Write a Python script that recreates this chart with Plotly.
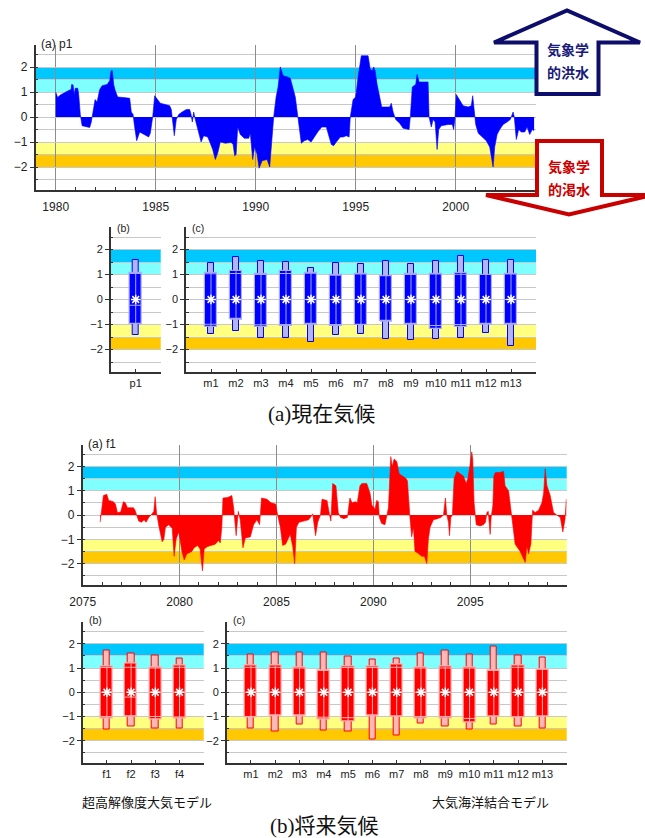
import numpy as np
import plotly.graph_objects as go

# ---------------------------------------------------------------- data
# Running drought/flood index, present climate (p1), decimal years
p1_year = [1980.00, 1980.10, 1980.23, 1980.48, 1980.65, 1980.77, 1980.80, 1980.87, 1980.92, 1980.98,
           1981.10, 1981.15, 1981.23, 1981.32, 1981.48, 1981.70, 1981.78, 1981.87, 1981.97, 1982.07,
           1982.20, 1982.32, 1982.57, 1982.70, 1982.77, 1982.83, 1982.90, 1982.98, 1983.10, 1983.40,
           1983.70, 1983.78, 1983.87, 1983.93, 1984.05, 1984.20, 1984.40, 1984.65, 1984.73, 1984.85,
           1984.95, 1985.03, 1985.23, 1985.48, 1985.70, 1985.78, 1985.85, 1985.93, 1986.03, 1986.15,
           1986.32, 1986.53, 1986.70, 1986.77, 1986.83, 1986.90, 1986.98, 1987.10, 1987.27, 1987.40,
           1987.60, 1987.73, 1987.85, 1987.98, 1988.10, 1988.23, 1988.48, 1988.77, 1988.87, 1988.95,
           1989.02, 1989.10, 1989.23, 1989.43, 1989.65, 1989.73, 1989.85, 1989.95, 1990.07, 1990.17,
           1990.32, 1990.57, 1990.70, 1990.80, 1990.90, 1991.02, 1991.12, 1991.23, 1991.37, 1991.60,
           1991.73, 1991.98, 1992.10, 1992.20, 1992.28, 1992.43, 1992.60, 1992.77, 1992.93, 1993.10,
           1993.30, 1993.53, 1993.78, 1993.90, 1994.03, 1994.23, 1994.37, 1994.53, 1994.67, 1994.73,
           1994.87, 1995.00, 1995.12, 1995.28, 1995.62, 1995.73, 1995.83, 1995.90, 1995.97, 1996.07,
           1996.20, 1996.30, 1996.70, 1996.78, 1996.87, 1997.00, 1997.20, 1997.37, 1997.67, 1997.73,
           1997.83, 1998.00, 1998.07, 1998.17, 1998.62, 1998.67, 1998.78, 1998.87, 1998.97, 1999.07,
           1999.15, 1999.28, 1999.62, 1999.83, 1999.90, 1999.97, 2000.03, 2000.20, 2000.37, 2000.62,
           2000.78, 2000.85, 2000.92, 2001.00, 2001.13, 2001.37, 2001.53, 2001.70, 2001.78, 2001.87,
           2001.95, 2002.07, 2002.20, 2002.37, 2002.57, 2002.73, 2002.87, 2002.93, 2003.03, 2003.15,
           2003.28, 2003.45, 2003.57, 2003.70, 2003.83, 2003.92]
p1_index = [1.00, 0.78, 0.88, 1.00, 1.06, 1.10, 1.30, 1.28, 0.90, 1.15,
            1.15, 0.90, 0.10, -0.35, -0.38, -0.42, -0.20, 0.20, 0.70, 0.60,
            1.10, 1.25, 1.30, 1.45, 1.85, 1.85, 1.30, 1.05, 0.80, 0.78,
            0.75, 0.20, 0.10, -0.30, -0.95, -0.60, -0.70, -0.80, -0.65, 0.00,
            0.85, 0.75, 0.55, 0.50, 0.45, 0.30, -0.10, -0.75, -0.10, 0.10,
            0.20, 0.30, 0.30, 0.10, -0.20, 0.20, -0.10, -0.50, -1.00, -0.75,
            -0.80, -1.05, -1.30, -1.70, -1.45, -1.00, -1.05, -1.02, -1.10, -1.55,
            -1.50, -0.40, -0.70, -0.85, -0.85, -0.65, -1.70, -1.20, -1.50, -2.05,
            -1.75, -1.70, -2.00, -1.00, 0.00, 0.80, 1.20, 2.00, 1.65, 1.60,
            1.55, 0.80, 0.00, -0.50, -1.05, -0.95, -0.90, -1.00, -0.80, -0.60,
            -0.40, -0.40, -1.10, -1.15, -1.00, -0.80, -0.80, -0.75, -0.80, 0.00,
            0.70, 0.80, 1.60, 2.45, 2.45, 1.90, 1.85, 2.00, 1.85, 1.30,
            0.80, 0.40, 0.40, 0.55, 0.20, -0.10, -0.25, -0.45, -0.50, 0.00,
            1.20, 1.30, 1.70, 1.40, 1.40, 0.00, -0.40, -0.10, -0.20, -1.30,
            -0.50, -0.35, -0.30, -0.30, -0.50, 0.00, 0.90, 0.70, 0.45, 0.40,
            0.45, 0.85, 0.30, -0.30, -0.65, -0.85, -0.95, -1.20, -1.60, -2.00,
            -1.20, -0.70, -0.50, -0.30, -0.20, -0.10, 0.20, 0.00, -0.90, -0.50,
            -0.60, -0.60, -0.40, -0.70, -0.50, -0.55]

# Running drought/flood index, future climate (f1)
f1_year = [2075.90, 2075.96, 2076.07, 2076.24, 2076.34, 2076.58, 2076.69, 2076.79, 2076.96, 2077.10,
           2077.20, 2077.31, 2077.62, 2077.70, 2077.79, 2077.89, 2078.03, 2078.17, 2078.27, 2078.41,
           2078.58, 2078.67, 2078.74, 2078.81, 2078.93, 2079.10, 2079.19, 2079.27, 2079.44, 2079.62,
           2079.72, 2079.82, 2079.96, 2080.12, 2080.24, 2080.37, 2080.63, 2080.75, 2080.93, 2081.06,
           2081.18, 2081.27, 2081.44, 2081.65, 2081.84, 2082.01, 2082.10, 2082.18, 2082.24, 2082.48,
           2082.70, 2082.79, 2082.92, 2083.03, 2083.13, 2083.27, 2083.39, 2083.65, 2083.82, 2083.99,
           2084.13, 2084.23, 2084.51, 2084.72, 2084.96, 2085.06, 2085.20, 2085.32, 2085.47, 2085.71,
           2085.84, 2085.94, 2086.03, 2086.16, 2086.40, 2086.66, 2086.80, 2086.87, 2086.96, 2087.02,
           2087.13, 2087.27, 2087.35, 2087.61, 2087.73, 2087.81, 2087.90, 2088.07, 2088.19, 2088.31,
           2088.48, 2088.66, 2088.79, 2088.90, 2089.07, 2089.17, 2089.31, 2089.41, 2089.66, 2089.83,
           2089.93, 2090.09, 2090.17, 2090.26, 2090.31, 2090.43, 2090.60, 2090.69, 2090.78, 2090.90,
           2090.98, 2091.07, 2091.21, 2091.33, 2091.69, 2091.76, 2091.83, 2091.89, 2091.98, 2092.07,
           2092.15, 2092.27, 2092.50, 2092.64, 2092.76, 2092.84, 2092.93, 2093.10, 2093.31, 2093.48,
           2093.62, 2093.72, 2093.79, 2093.88, 2093.93, 2094.00, 2094.08, 2094.17, 2094.31, 2094.48,
           2094.65, 2094.79, 2094.88, 2095.00, 2095.08, 2095.13, 2095.20, 2095.31, 2095.51, 2095.68,
           2095.79, 2095.86, 2095.93, 2096.03, 2096.08, 2096.17, 2096.22, 2096.30, 2096.55, 2096.72,
           2096.80, 2096.98, 2097.10, 2097.20, 2097.32, 2097.58, 2097.75, 2097.84, 2097.92, 2098.01,
           2098.13, 2098.22, 2098.35, 2098.53, 2098.70, 2098.79, 2098.87, 2098.96, 2099.13, 2099.30,
           2099.47, 2099.65, 2099.78, 2099.89, 2099.96]
f1_index = [-0.30, 0.20, 0.80, 0.85, 0.60, 0.55, 0.45, 0.10, 0.12, 0.55,
            0.50, 0.30, 0.30, 0.20, 0.00, -0.25, -0.30, -0.20, -0.30, -0.10,
            0.05, 0.15, 0.75, 0.10, -0.45, -1.10, -1.00, -0.50, -0.40, -0.55,
            -1.70, -1.00, -0.70, -1.50, -1.85, -1.60, -1.50, -1.35, -1.25, -1.40,
            -2.30, -1.40, -1.30, -1.25, -1.20, -1.05, -1.15, -0.50, 0.70, 0.72,
            0.80, 0.30, -0.85, 0.15, -0.20, -1.35, -0.95, -0.90, -0.40, -0.20,
            -0.40, 0.70, 0.65, 0.50, 0.45, 0.00, -0.50, -1.25, -1.20, -0.80,
            -1.30, -2.00, -0.50, -0.30, -0.25, -0.20, -0.05, 0.05, -0.50, -0.85,
            -0.30, 0.00, 0.65, 0.60, 0.05, -0.25, 1.30, 1.20, 0.10, -0.10,
            -0.15, -0.10, 0.70, 0.50, 0.55, 0.50, 1.20, 1.30, 1.30, 0.90,
            0.40, 0.25, 0.60, 0.55, -0.10, -0.35, -0.40, -0.10, 0.30, 2.40,
            2.00, 2.30, 2.20, 1.70, 1.50, 1.40, 0.50, -0.10, -0.90, -0.50,
            -1.50, -1.55, -1.70, -1.70, -2.00, -1.00, -0.50, -0.20, -0.15, -0.10,
            0.00, 0.70, 0.00, -0.30, -0.85, -0.10, 0.00, 1.50, 1.80, 1.70,
            1.60, 1.30, 1.50, 2.10, 2.60, 2.30, 0.50, -0.40, -0.45, -0.40,
            -0.30, 0.10, 0.15, -0.80, -0.10, 0.40, 1.60, 1.75, 1.75, 1.80,
            1.20, 1.00, 0.20, -0.30, -1.20, -1.50, -1.80, -1.95, -1.30, -1.60,
            -1.20, 0.20, 0.10, 0.20, 0.50, 0.90, 1.90, 1.20, 0.80, 0.10,
            0.00, -0.10, -0.70, -0.20, 0.65]

# Distribution summaries per run: whisker (min/max), box, reference lines, median, mean
present_b = dict(names=["p1"],
                 wmin=[-1.40], wmax=[1.60], blo=[-0.96], bhi=[1.08],
                 lo_line=[-0.96], hi_line=[1.04], median=[-0.23], mean=[0.0])
present_c = dict(names=["m1", "m2", "m3", "m4", "m5", "m6", "m7", "m8", "m9", "m10", "m11", "m12", "m13"],
                 wmin=[-1.36, -1.27, -1.55, -1.52, -1.68, -1.40, -1.36, -1.56, -1.60, -1.56, -1.52, -1.32, -1.85],
                 wmax=[1.48, 1.71, 1.56, 1.51, 1.28, 1.45, 1.44, 1.55, 1.44, 1.55, 1.73, 1.57, 1.60],
                 blo=[-1.09, -0.79, -1.11, -1.04, -0.99, -1.04, -1.00, -0.87, -0.99, -1.16, -1.09, -0.99, -0.99],
                 bhi=[1.07, 1.13, 1.01, 1.15, 1.08, 0.97, 1.04, 0.95, 1.01, 1.04, 1.08, 1.00, 1.04],
                 lo_line=[-0.99, -0.79, -1.01, -1.00, -0.99, -1.00, -1.00, -0.87, -0.99, -1.04, -1.00, -0.99, -0.99],
                 hi_line=[1.03, 1.04, 1.00, 1.04, 1.05, 0.97, 1.02, 0.95, 1.00, 1.02, 1.01, 1.00, 1.02],
                 median=[0.0, 0.0, 0.0, 0.0, 0.0, 0.0, 0.0, 0.0, 0.0, 0.0, 0.0, 0.0, 0.0],
                 mean=[0.0, 0.0, 0.0, 0.0, 0.0, 0.0, 0.0, 0.0, 0.0, 0.0, 0.0, 0.0, 0.0])
future_b = dict(names=["f1", "f2", "f3", "f4"],
                wmin=[-1.53, -1.43, -1.48, -1.49], wmax=[1.72, 1.60, 1.52, 1.41],
                blo=[-1.10, -1.00, -1.14, -1.10], bhi=[1.06, 1.20, 1.03, 1.10],
                lo_line=[-1.00, -0.98, -1.00, -1.02], hi_line=[1.02, 1.03, 1.00, 1.03],
                median=[0.0, -0.20, 0.0, 0.0], mean=[0.0, 0.0, 0.0, 0.0])
future_c = dict(names=["m1", "m2", "m3", "m4", "m5", "m6", "m7", "m8", "m9", "m10", "m11", "m12", "m13"],
                wmin=[-1.48, -1.60, -1.35, -1.56, -1.61, -1.94, -1.79, -1.31, -1.42, -1.52, -1.35, -1.42, -1.49],
                wmax=[1.57, 1.66, 1.66, 1.66, 1.48, 1.37, 1.41, 1.61, 1.71, 1.56, 1.89, 1.52, 1.43],
                blo=[-1.03, -0.97, -0.98, -1.14, -1.21, -0.98, -1.00, -1.08, -1.08, -1.26, -1.00, -1.05, -1.00],
                bhi=[1.09, 1.09, 1.02, 0.90, 1.06, 1.06, 1.13, 1.02, 1.06, 1.02, 0.90, 1.12, 0.95],
                lo_line=[-1.00, -0.97, -0.98, -1.03, -1.05, -0.98, -1.00, -1.00, -1.00, -1.08, -1.00, -1.02, -1.00],
                hi_line=[1.03, 1.03, 1.00, 0.90, 1.02, 1.02, 1.03, 1.00, 1.00, 1.00, 0.90, 1.03, 0.95],
                median=[0.0, 0.0, 0.0, 0.0, 0.0, 0.0, 0.0, 0.0, 0.0, 0.0, 0.0, 0.0, 0.0],
                mean=[0.0, 0.0, 0.0, 0.0, 0.0, 0.0, 0.0, 0.0, 0.0, 0.0, 0.0, 0.0, 0.0])

# Wet / dry threshold bands (lower, upper, colour)
band_lo = [1.5, 1.0, -1.5, -2.0]
band_hi = [2.0, 1.5, -1.0, -1.5]
band_color = ["#00c8ff", "#80ffff", "#ffff80", "#ffc800"]

# ---------------------------------------------------------------- layout helpers
W, H = 645, 838
FONT = "Liberation Sans, Arial, Noto Sans CJK JP, sans-serif"
AXC = "#333333"
GRID = "#c8c8c8"


def xdom(a, b):
    return [a / W, b / W]


def ydom(top, bottom):
    return [1 - bottom / H, 1 - top / H]


def px(x, y):
    return x / W, 1 - y / H


fig = go.Figure()

# axis specs: name -> (x domain px, y domain px, x range, y range, kind)
panels = {
    1: ((35.7, 535.7), (44.5, 189.5), [1979, 2004], [-2.9, 2.9], "time"),
    2: ((110.7, 160.7), (227.0, 372.0), [0, 2], [-2.9, 2.9], "cat"),
    3: ((186.0, 536.0), (227.0, 372.0), [0, 14], [-2.9, 2.9], "cat"),
    4: ((82.7, 566.7), (445.0, 585.0), [2075, 2099.98], [-2.88, 2.88], "time"),
    5: ((82.7, 203.7), (621.5, 763.0), [0, 5], [-2.92, 2.92], "cat"),
    6: ((226.7, 566.7), (621.5, 763.0), [0, 14], [-2.92, 2.92], "cat"),
}

layout_axes = {}
for k, (xd, yd, xr, yr, kind) in panels.items():
    xa = "xaxis" if k == 1 else f"xaxis{k}"
    ya = "yaxis" if k == 1 else f"yaxis{k}"
    big = kind == "time"
    yaxis = dict(domain=ydom(*yd), range=yr, anchor="x" if k == 1 else f"x{k}",
                 tick0=0, dtick=1, ticks="outside", ticklen=4, tickcolor=AXC,
                 showgrid=True, gridcolor=GRID, gridwidth=1, zeroline=False,
                 showline=True, linecolor=AXC, linewidth=1.5, automargin=False,
                 tickfont=dict(family=FONT, size=12 if big else 11, color="#222"),
                 minor=dict(dtick=0.5, tick0=0, showgrid=True, gridcolor=GRID,
                            ticks="inside", ticklen=3, tickcolor=AXC),
                 fixedrange=True)
    xaxis = dict(domain=xdom(*xd), range=xr, anchor="y" if k == 1 else f"y{k}",
                 showline=True, linecolor=AXC, linewidth=1.5, zeroline=False,
                 automargin=False, fixedrange=True)
    if big:
        xaxis.update(tick0=1980, dtick=5, ticks="", showgrid=True, gridcolor="#8c8c8c",
                     gridwidth=1, ticklabelstandoff=5, tickangle=0,
                     tickfont=dict(family=FONT, size=12, color="#222"),
                     minor=dict(dtick=1, tick0=1980, ticks="inside", ticklen=3, tickcolor=AXC,
                                showgrid=False))
    layout_axes[xa] = xaxis
    layout_axes[ya] = yaxis

# ---------------------------------------------------------------- threshold bands
shapes = []
for k in panels:
    xr = "x" if k == 1 else f"x{k}"
    yr = "y" if k == 1 else f"y{k}"
    for lo, hi, c in zip(band_lo, band_hi, band_color):
        shapes.append(dict(type="rect", xref=f"{xr} domain", yref=yr, x0=0, x1=1,
                           y0=lo, y1=hi, fillcolor=c, line=dict(width=0), layer="below"))

# ---------------------------------------------------------------- time series
fig.add_trace(go.Scatter(x=p1_year, y=p1_index, mode="lines", fill="tozeroy",
                         fillcolor="#0000ff", line=dict(color="#0000ff", width=0.6),
                         xaxis="x", yaxis="y", showlegend=False))
fig.add_trace(go.Scatter(x=f1_year, y=f1_index, mode="lines", fill="tozeroy",
                         fillcolor="#ff0000", line=dict(color="#ff0000", width=0.6),
                         xaxis="x4", yaxis="y4", showlegend=False))


# ---------------------------------------------------------------- distribution glyphs
def add_glyphs(d, k, dark, light, whisker_fill, whisker_w, box_w):
    n = len(d["names"])
    pos = np.arange(1, n + 1)
    xa, ya = f"x{k}", f"y{k}"
    wmin, wmax = np.array(d["wmin"]), np.array(d["wmax"])
    blo, bhi = np.array(d["blo"]), np.array(d["bhi"])
    fig.add_trace(go.Bar(x=pos, y=wmax - wmin, base=wmin, width=whisker_w,
                         marker=dict(color=whisker_fill, line=dict(color=dark, width=1)),
                         xaxis=xa, yaxis=ya, showlegend=False))
    fig.add_trace(go.Bar(x=pos, y=bhi - blo, base=blo, width=box_w,
                         marker=dict(color=dark, line=dict(color=light, width=1.2)),
                         xaxis=xa, yaxis=ya, showlegend=False))
    # vertical centre line inside each box
    vx, vy = [], []
    for p, a, b in zip(pos, blo, bhi):
        vx += [p, p, None]
        vy += [a, b, None]
    fig.add_trace(go.Scatter(x=vx, y=vy, mode="lines", line=dict(color=light, width=1),
                             xaxis=xa, yaxis=ya, showlegend=False, hoverinfo="skip"))
    # horizontal reference lines and median
    hx, hy = [], []
    for p, a, b, m in zip(pos, d["lo_line"], d["hi_line"], d["median"]):
        for v in (a, b, m):
            hx += [p - box_w / 2, p + box_w / 2, None]
            hy += [v, v, None]
    fig.add_trace(go.Scatter(x=hx, y=hy, mode="lines", line=dict(color=light, width=1),
                             xaxis=xa, yaxis=ya, showlegend=False, hoverinfo="skip"))
    fig.add_trace(go.Scatter(x=pos, y=d["mean"], mode="markers",
                             marker=dict(symbol="asterisk-open", size=8, color="white",
                                         line=dict(color="white", width=1.5)),
                             xaxis=xa, yaxis=ya, showlegend=False))
    layout_axes[f"xaxis{k}"].update(tickvals=list(pos), ticktext=d["names"], ticks="inside",
                                    ticklen=3, tickcolor=AXC, showgrid=False, tickangle=0,
                                    tickfont=dict(family=FONT, size=11, color="#222"))


add_glyphs(present_b, 2, "#0000ff", "#a8a8ff", "#b4b4f2", 0.26, 0.48)
add_glyphs(present_c, 3, "#0000ff", "#a8a8ff", "#b4b4f2", 0.26, 0.48)
add_glyphs(future_b, 5, "#ff0000", "#ffb0b0", "#ffb8b8", 0.26, 0.50)
add_glyphs(future_c, 6, "#ff0000", "#ffb0b0", "#ffb8b8", 0.26, 0.50)


# ---------------------------------------------------------------- flood / drought arrows
def path(points):
    s = ""
    for i, (x, y) in enumerate(points):
        X, Y = px(x, y)
        s += ("M" if i == 0 else "L") + f"{X:.5f},{Y:.5f} "
    return s + "Z"


up_arrow = [(536.5, 94), (536.5, 42.5), (494, 42.5), (567, 10.5), (640, 42.5),
            (598.5, 42.5), (598.5, 94)]
down_arrow = [(537, 141), (537, 195), (486, 195), (569, 214.5), (652, 195),
              (602, 195), (602, 141)]
shapes.append(dict(type="path", xref="paper", yref="paper", path=path(up_arrow),
                   fillcolor="white", line=dict(color="#0d0d6b", width=4), layer="above"))
shapes.append(dict(type="path", xref="paper", yref="paper", path=path(down_arrow),
                   fillcolor="white", line=dict(color="#c80000", width=4), layer="above"))

# ---------------------------------------------------------------- text
annotations = []


def label(text, x, y, size, color="#222", xanchor="left", family=FONT):
    X, Y = px(x, y)
    annotations.append(dict(text=text, x=X, y=Y, xref="paper", yref="paper",
                            xanchor=xanchor, yanchor="middle", showarrow=False,
                            font=dict(family=family, size=size, color=color)))


label("(a) p1", 38.5, 44, 12)
label("(b)", 114.5, 228, 10.5)
label("(c)", 190, 228, 10.5)
label("(a) f1", 85.5, 444, 12)
label("(b)", 87, 620, 10.5)
label("(c)", 231, 620, 10.5)

CJK = "Noto Sans CJK JP, sans-serif"
label("<b>気象学</b>", 568, 49, 14, "#1a1a7a", "center", CJK)
label("<b>的洪水</b>", 568, 72, 14, "#1a1a7a", "center", CJK)
label("<b>気象学</b>", 569, 166, 14, "#cc0000", "center", CJK)
label("<b>的渇水</b>", 569, 189, 14, "#cc0000", "center", CJK)

SERIF = "Liberation Serif, Noto Sans CJK JP, serif"
label("(a)現在気候", 321.5, 414, 21, "#111", "center", SERIF)
label("(b)将来気候", 324, 826, 21, "#111", "center", SERIF)
label("超高解像度大気モデル", 80, 801.5, 13, "#111", "left", CJK)
label("大気海洋結合モデル", 430, 801.5, 13, "#111", "left", CJK)

fig.update_layout(width=W, height=H, autosize=False,
                  margin=dict(l=0, r=0, t=0, b=0, pad=0, autoexpand=False),
                  paper_bgcolor="white", plot_bgcolor="white",
                  barmode="overlay", bargap=0, showlegend=False,
                  shapes=shapes, annotations=annotations, **layout_axes)

fig.write_html("out.html")
